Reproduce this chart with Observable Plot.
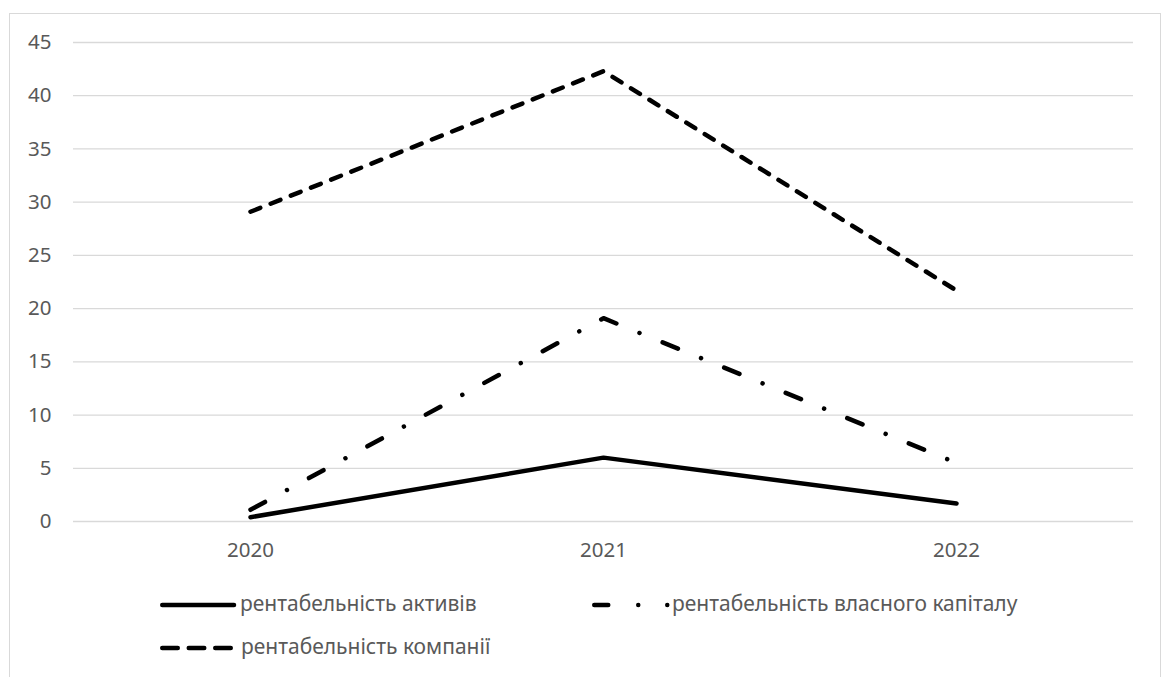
<!DOCTYPE html>
<html>
<head>
<meta charset="utf-8">
<script src="https://cdn.jsdelivr.net/npm/d3@7"></script>
<script src="https://cdn.jsdelivr.net/npm/@observablehq/plot@0.6"></script>
<style>
  html, body { margin: 0; padding: 0; background: #fff; width: 1165px; height: 677px; overflow: hidden; }
  #frame { position: absolute; left: 9px; top: 13px; width: 1152px; height: 700px; border: 1.3px solid #d9d9d9; box-sizing: border-box; pointer-events: none; z-index: 2; }
  #chart { position: absolute; left: 0; top: 0; }
  .leg { position: absolute; font-family: "Noto Sans", sans-serif; font-size: 21px; color: #595959; white-space: nowrap; line-height: 1; }
  .leg svg { position: absolute; }
</style>
</head>
<body>
<div id="chart"></div>
<div id="legend"></div>
<div id="frame"></div>
<script>
const years = ["2020", "2021", "2022"];
const seriesNames = ["рентабельність активів", "рентабельність власного капіталу", "рентабельність компанії"];
const assets = [0.4, 6.0, 1.7];
const equity = [1.1, 19.1, 5.5];
const company = [29.1, 42.3, 21.7];
const yTicks = [0, 5, 10, 15, 20, 25, 30, 35, 40, 45];

const seriesValues = [assets, equity, company];
const dashes = [null, "16.5,25,0.01,25", "10.5,11.2"];
const legendDashes = [null, "14,30,0.01,29,0.01,300", "15.5,11"];

const rows = [];
seriesNames.forEach((s, i) => years.forEach((y, j) => rows.push({series: s, year: y, value: seriesValues[i][j]})));

const lineMarks = seriesNames.map((s, i) => Plot.line(rows.filter(d => d.series === s), {
  x: "year", y: "value", stroke: "black", strokeWidth: 4.5,
  strokeLinecap: "round", strokeLinejoin: "round",
  strokeDasharray: dashes[i] || undefined
}));

const chart = Plot.plot({
  width: 1165,
  height: 570,
  marginTop: 42,
  marginBottom: 49,
  marginLeft: 73,
  marginRight: 32,
  style: {fontFamily: "Noto Sans, sans-serif", fontSize: "20.5px", background: "transparent"},
  x: {type: "point", domain: years, padding: 0.5, label: null},
  y: {domain: [0, 45], label: null},
  marks: [
    Plot.gridY(yTicks, {stroke: "#d9d9d9", strokeOpacity: 1, strokeWidth: 1.3}),
    Plot.axisY(yTicks, {tickSize: 0, tickPadding: 22, fill: "#595959", fontSize: 20.5, label: null}),
    Plot.axisX({tickSize: 0, tickPadding: 21, fill: "#595959", fontSize: 20.5, label: null}),
    ...lineMarks
  ]
});
document.getElementById("chart").appendChild(chart);

// Legend
const legendPos = [
  {x: 160, y: 605, w: 75, tx: 240},
  {x: 592, y: 605, w: 78, tx: 672},
  {x: 160, y: 648, w: 75, tx: 241}
];
const legend = document.getElementById("legend");
seriesNames.forEach((s, i) => {
  const p = legendPos[i];
  const item = document.createElement("div");
  item.className = "leg";
  item.style.left = p.x + "px";
  item.style.top = (p.y - 13) + "px";
  item.style.height = "26px";
  const svg = d3.create("svg").attr("width", p.w + 6).attr("height", 26)
    .style("left", "-2px").style("top", "0px");
  svg.append("line")
    .attr("x1", 4.25).attr("x2", p.w + 1).attr("y1", 13).attr("y2", 13)
    .attr("stroke", "black").attr("stroke-width", 4.5).attr("stroke-linecap", "round")
    .attr("stroke-dasharray", legendDashes[i]);
  item.appendChild(svg.node());
  const t = document.createElement("span");
  t.textContent = s;
  t.style.position = "absolute";
  t.style.left = (p.tx - p.x) + "px";
  t.style.top = "1px";
  item.appendChild(t);
  legend.appendChild(item);
});
</script>
</body>
</html>
